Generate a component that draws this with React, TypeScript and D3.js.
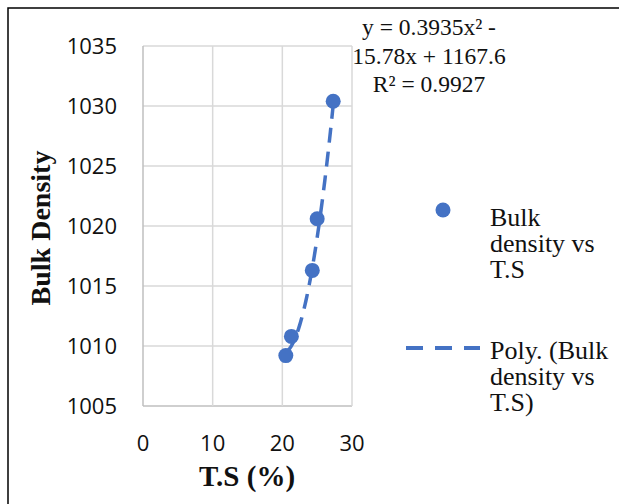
import React, { useRef, useEffect } from 'react';
import * as d3 from 'd3';

// values
const totalSolids = [20.5, 21.3, 24.3, 25.0, 27.3];
const bulkDensity = [1009.2, 1010.8, 1016.3, 1020.6, 1030.4];
const xTicks = [0, 10, 20, 30];
const yTicks = [1005, 1010, 1015, 1020, 1025, 1030, 1035];
// poly trendline coefficients (as printed on the chart)
const trendCoef = [0.3935, -15.78, 1167.6];
const equationLines = ['y = 0.3935x\u00b2 -', '15.78x + 1167.6', 'R\u00b2 = 0.9927'];
const legendPoints = ['Bulk', 'density vs', 'T.S'];
const legendTrend = ['Poly. (Bulk', 'density vs', 'T.S)'];

const BLUE = '#4472C4';
const SERIF = '"Liberation Serif", "Times New Roman", serif';
const SANS = '"Open Sans", "Noto Sans", sans-serif';

const App = () => {
  const ref = useRef<SVGSVGElement>(null);
  const width = 619;
  const height = 504;

  useEffect(() => {
    const svg = d3.select(ref.current);
    svg.selectAll('*').remove();

    const x = d3.scaleLinear().domain([0, 30]).range([143, 352]);
    const y = d3.scaleLinear().domain([1005, 1035]).range([406, 46]);

    svg.append('rect').attr('width', width).attr('height', height).attr('fill', '#fff');

    // outer frame (only top/left visible)
    svg.append('path')
      .attr('d', `M8,${height} L8,8 L${width},8`)
      .attr('fill', 'none')
      .attr('stroke', '#000')
      .attr('stroke-width', 1.5);

    // equation label (sits partly behind the plot area)
    svg.append('g').selectAll('text')
      .data(equationLines)
      .enter()
      .append('text')
      .attr('x', 429)
      .attr('y', (d, i) => 35 + i * 28.5)
      .attr('text-anchor', 'middle')
      .attr('font-family', SERIF)
      .attr('font-size', 23.5)
      .attr('fill', '#111')
      .text(d => d);

    // grid
    const grid = svg.append('g');
    yTicks.forEach(t => {
      grid.append('line')
        .attr('x1', x(0)).attr('x2', x(30))
        .attr('y1', y(t)).attr('y2', y(t))
        .attr('stroke', t === 1005 ? '#bfbfbf' : '#d9d9d9')
        .attr('stroke-width', 1.5);
    });
    xTicks.forEach(t => {
      grid.append('line')
        .attr('x1', x(t)).attr('x2', x(t))
        .attr('y1', y(1005)).attr('y2', y(1035))
        .attr('stroke', t === 0 ? '#bfbfbf' : '#d9d9d9')
        .attr('stroke-width', 1.5);
    });

    // tick labels
    svg.append('g').selectAll('text')
      .data(yTicks)
      .enter()
      .append('text')
      .attr('x', 117)
      .attr('y', d => y(d) + 8)
      .attr('text-anchor', 'end')
      .attr('font-family', SANS)
      .attr('font-size', 22)
      .attr('fill', '#111')
      .text(d => d);

    svg.append('g').selectAll('text')
      .data(xTicks)
      .enter()
      .append('text')
      .attr('x', d => x(d))
      .attr('y', 451)
      .attr('text-anchor', 'middle')
      .attr('font-family', SANS)
      .attr('font-size', 22)
      .attr('fill', '#111')
      .text(d => d);

    // axis titles
    svg.append('text')
      .attr('x', 247)
      .attr('y', 486)
      .attr('text-anchor', 'middle')
      .attr('font-family', SERIF)
      .attr('font-weight', 'bold')
      .attr('font-size', 29)
      .attr('fill', '#111')
      .text('T.S (%)');

    svg.append('text')
      .attr('transform', 'translate(50,228) rotate(-90)')
      .attr('text-anchor', 'middle')
      .attr('font-family', SERIF)
      .attr('font-weight', 'bold')
      .attr('font-size', 28)
      .attr('fill', '#111')
      .text('Bulk Density');

    // trendline
    const [a, b, c] = trendCoef;
    const xs = d3.range(d3.min(totalSolids)!, d3.max(totalSolids)! + 0.001, 0.1);
    const line = d3.line<number>()
      .x(d => x(d))
      .y(d => y(a * d * d + b * d + c));
    svg.append('path')
      .datum(xs)
      .attr('d', line)
      .attr('fill', 'none')
      .attr('stroke', BLUE)
      .attr('stroke-width', 3.5)
      .attr('stroke-dasharray', '15,9');

    // points
    svg.append('g').selectAll('circle')
      .data(totalSolids)
      .enter()
      .append('circle')
      .attr('cx', d => x(d))
      .attr('cy', (d, i) => y(bulkDensity[i]))
      .attr('r', 7.5)
      .attr('fill', BLUE);

    // legend
    const legend = svg.append('g');
    legend.append('circle')
      .attr('cx', 443).attr('cy', 210).attr('r', 7.5).attr('fill', BLUE);
    legend.append('g').selectAll('text')
      .data(legendPoints)
      .enter()
      .append('text')
      .attr('x', 490)
      .attr('y', (d, i) => 226 + i * 26)
      .attr('font-family', SERIF)
      .attr('font-size', 26)
      .attr('fill', '#111')
      .text(d => d);

    legend.append('line')
      .attr('x1', 406).attr('x2', 480)
      .attr('y1', 348).attr('y2', 348)
      .attr('stroke', BLUE)
      .attr('stroke-width', 4)
      .attr('stroke-dasharray', '17,12');
    legend.append('g').selectAll('text')
      .data(legendTrend)
      .enter()
      .append('text')
      .attr('x', 490)
      .attr('y', (d, i) => 359 + i * 26)
      .attr('font-family', SERIF)
      .attr('font-size', 26)
      .attr('fill', '#111')
      .text(d => d);
  }, []);

  return (
    <svg
      ref={ref}
      width={width}
      height={height}
      style={{ position: 'absolute', left: 0, top: 0, display: 'block' }}
    />
  );
};

export default App;
